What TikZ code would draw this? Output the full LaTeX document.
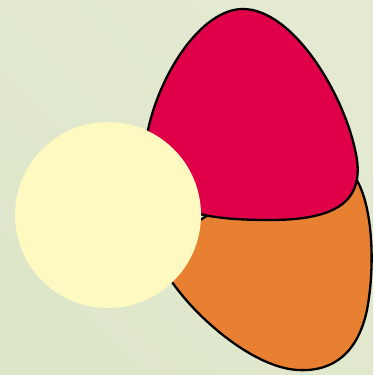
\documentclass[tikz,border=0pt]{standalone}
\begin{document}
\begin{tikzpicture}[x=1pt,y=-1pt,
  blob/.style={draw=black,line width=2.3pt,line join=round}]
\definecolor{bgA}{HTML}{E3EAD1}
\definecolor{bgB}{HTML}{DEE6CA}
\definecolor{redblob}{HTML}{E0004A}
\definecolor{orangeblob}{HTML}{E88031}
\definecolor{paleyellow}{HTML}{FDF9C0}
\shade[left color=bgA,right color=bgB,shading angle=-45] (0,0) rectangle (373,375);
\useasboundingbox (0,0) rectangle (373,375);
% orange blob (back)
\path[blob,fill=orangeblob] (354,176) .. controls (372,200) and (376,262) .. (367,310)
  .. controls (358,352) and (334,372) .. (298,370)
  .. controls (256,368) and (200,322) .. (172,282)
  .. controls (150,250) and (200,190) .. (354,176) -- cycle;
% red blob
\path[blob,fill=redblob] (242,9) .. controls (294,8) and (348,100) .. (357,160)
  .. controls (363,205) and (330,220) .. (270,220)
  .. controls (210,220) and (140,214) .. (145,150)
  .. controls (150,90) and (196,10) .. (242,9) -- cycle;
% pale circle
\fill[paleyellow] (108,215) circle[radius=93];
\end{tikzpicture}
\end{document}
